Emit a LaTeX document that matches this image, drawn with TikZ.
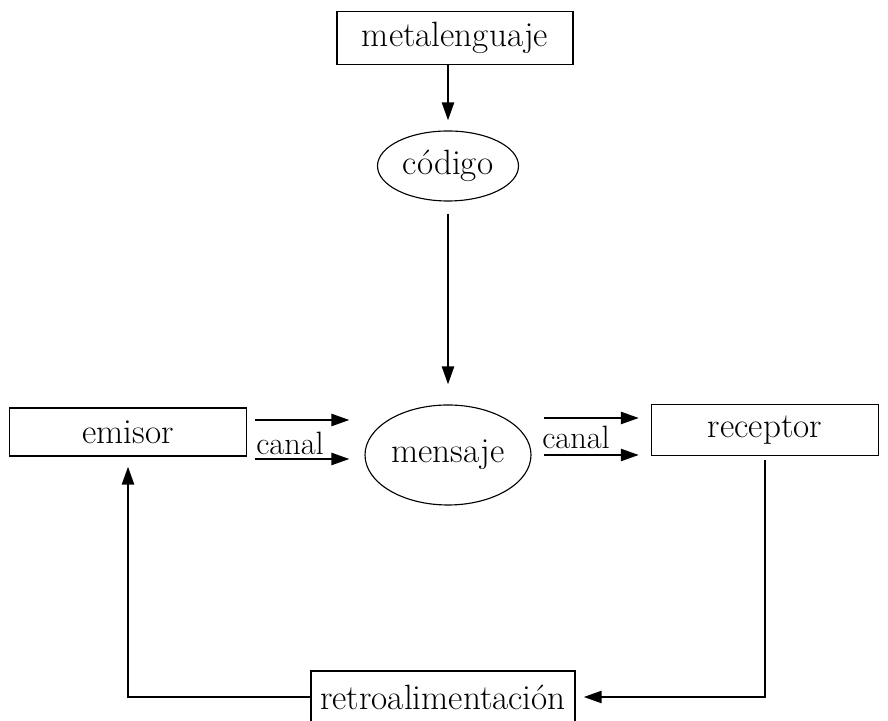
\documentclass[tikz,border=0pt]{standalone}
\usetikzlibrary{shapes.geometric,arrows.meta,calc}

\tikzset{
  caja/.style={draw, line width=0.9pt, inner sep=0pt, font=\fontsize{25}{29}\selectfont},
  ovalo/.style={ellipse, draw, line width=0.8pt, inner sep=0pt, font=\fontsize{25}{29}\selectfont},
  rotulo/.style={inner sep=0pt, font=\fontsize{23}{27}\selectfont},
  flecha/.style={-{Triangle[length=4.5mm,width=3mm]}, line width=1.7pt}
}

\begin{document}
\begin{tikzpicture}
    \useasboundingbox (0,0) rectangle (22.2,18.025);

    %% Cajas y elipses
    \node[caja, minimum width=5.9cm, minimum height=1.325cm] (meta) at (11.375,17.075) {metalenguaje};
    \node[ovalo, minimum width=3.525cm, minimum height=1.75cm] (codigo) at (11.2,13.875) {código};
    \node[ovalo, minimum width=4.15cm, minimum height=2.5cm] (mensaje) at (11.2,6.65) {mensaje};
    \node[caja, minimum width=5.925cm, minimum height=1.2cm] (emisor) at (3.2,7.225) {emisor};
    \node[caja, minimum width=5.675cm, minimum height=1.275cm] (receptor) at (19.125,7.275) {receptor};
    \node[caja, minimum width=6.6cm, minimum height=1.3cm] (retro) at (11.075,0.6) {retroalimentación};

    %% Rotulos del canal
    \node[rotulo] (canalA) at (7.25,6.95) {canal};
    \node[rotulo] (canalB) at (14.4,7.1) {canal};

    %% Flechas verticales
    \draw[flecha] (meta.south -| codigo.north) -- ([yshift=2.5mm]codigo.north);
    \draw[flecha] ([yshift=-3mm]codigo.south) -- ([yshift=5mm]mensaje.north);

    %% Canal de emisor a mensaje
    \draw[flecha] ($(emisor.east)+(0.2,0.3)$) -- ($(emisor.east -| mensaje.west)+(-0.375,0.3)$);
    \draw[flecha] ($(emisor.east)+(0.2,-0.675)$) -- ($(emisor.east -| mensaje.west)+(-0.375,-0.675)$);

    %% Canal de mensaje a receptor
    \draw[flecha] ($(mensaje.east |- receptor.west)+(0.3,0.3)$) -- ($(receptor.west)+(-0.3,0.3)$);
    \draw[flecha] ($(mensaje.east |- receptor.west)+(0.3,-0.625)$) -- ($(receptor.west)+(-0.3,-0.625)$);

    %% Retroalimentacion
    \draw[flecha] ([yshift=-1mm]receptor.south) |- ([xshift=2mm]retro.east);
    \draw[flecha] (retro.west) -| ([yshift=-2.5mm]emisor.south);
\end{tikzpicture}
\end{document}
